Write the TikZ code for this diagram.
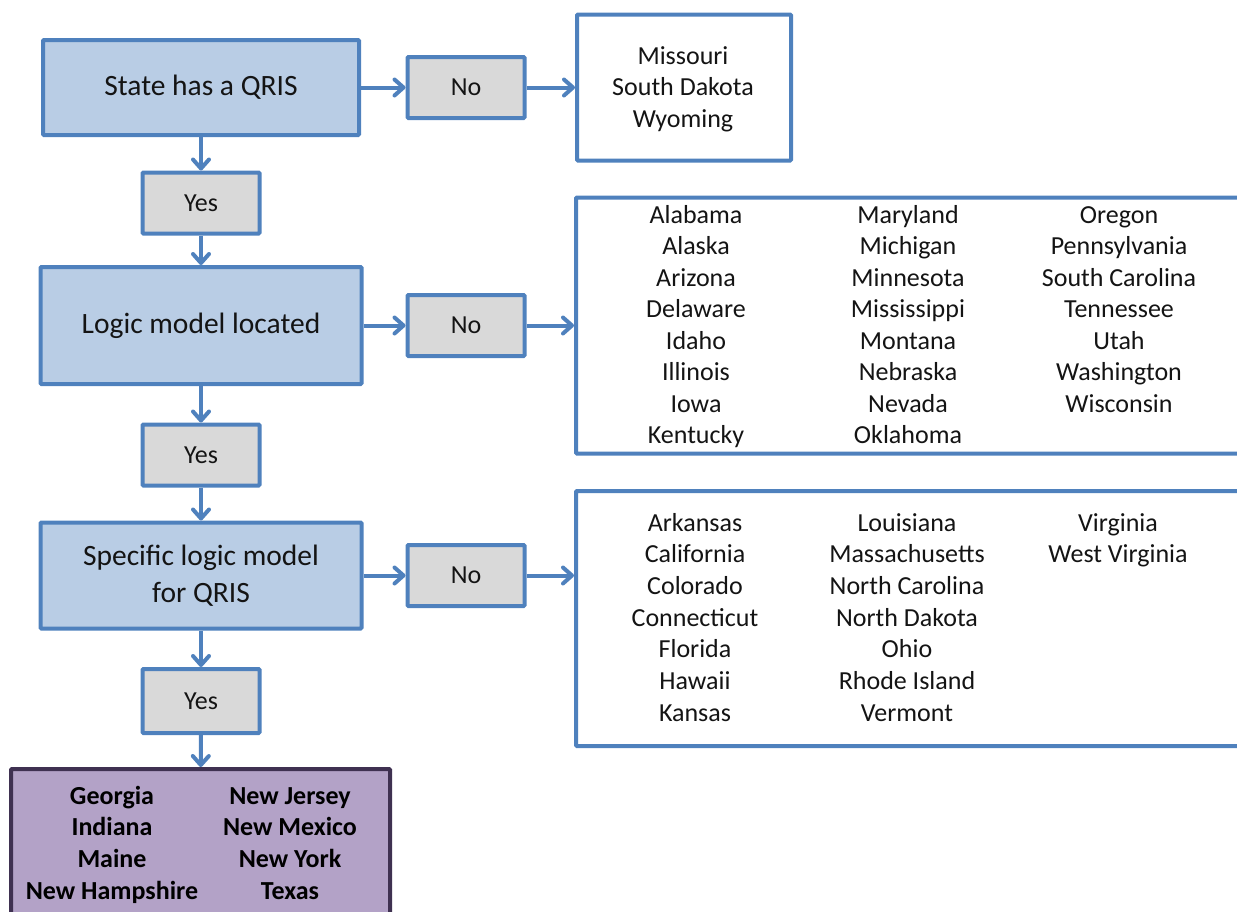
\documentclass[tikz,border=0pt]{standalone}
\usepackage{fontspec}
\setmainfont{Carlito}
\usetikzlibrary{arrows.meta}
\definecolor{bord}{HTML}{4F81BD}
\definecolor{bluefill}{HTML}{B9CDE5}
\definecolor{grayfill}{HTML}{D9D9D9}
\definecolor{purpfill}{HTML}{B3A2C7}
\definecolor{purpbord}{HTML}{3F3151}
\definecolor{txt}{HTML}{141414}
\tikzset{
  mainbox/.style={draw=bord, fill=bluefill, line width=4pt, inner sep=0pt, rounded corners=1pt,
    align=center, text=txt, font=\fontsize{29.5}{37}\selectfont},
  ansbox/.style={draw=bord, fill=grayfill, line width=4pt, inner sep=0pt, rounded corners=1pt,
    minimum width=117pt, minimum height=61pt, text=txt, font=\fontsize{26}{31}\selectfont},
  listbox/.style={draw=bord, fill=white, line width=4pt, inner sep=0pt, rounded corners=1pt},
  finalbox/.style={draw=purpbord, fill=purpfill, line width=4pt, inner sep=0pt, rounded corners=1pt},
  listtxt/.style={inner sep=0pt, anchor=base, text=txt, font=\fontsize{26}{31}\selectfont},
  boldtxt/.style={inner sep=0pt, anchor=base, text=black, font=\fontsize{26}{31}\selectfont\bfseries},
  flow/.style={draw=bord, line width=4pt, -{Straight Barb[length=9pt,width=16pt,line width=4pt,round]}},
}
\begin{document}
\begin{tikzpicture}[x=1pt,y=-1pt]
\useasboundingbox (0,0) rectangle (1237,911);
\clip (0,0) rectangle (1237,911);
% left column
\node[mainbox, minimum width=316pt, minimum height=95pt] (b1) at (201,87.5) {State has a QRIS};
\node[ansbox] (yes1) at (201,203) {Yes};
\node[mainbox, minimum width=321pt, minimum height=117pt] (b2) at (201,325.5) {Logic model located};
\node[ansbox] (yes2) at (201,455) {Yes};
\node[mainbox, minimum width=321pt, minimum height=106pt] (b3) at (201,575.5) {Specific logic model\\for QRIS};
\node[ansbox, minimum height=64pt] (yes3) at (201,701) {Yes};
\node[finalbox, minimum width=379pt, minimum height=160pt] (fin) at (200.5,849) {};
% No boxes
\node[ansbox] (no1) at (466,87.5) {No};
\node[ansbox] (no2) at (466,325.5) {No};
\node[ansbox] (no3) at (466,575.5) {No};
% list boxes
\node[listbox, minimum width=214pt, minimum height=146pt] (l1) at (684,87.5) {};
\node[listbox, minimum width=684pt, minimum height=256pt] (l2) at (918,325.5) {};
\node[listbox, minimum width=684pt, minimum height=255pt] (l3) at (918,618.5) {};
% texts list 1
\foreach \s [count=\i] in {Missouri, South Dakota, Wyoming}
  \node[listtxt] (ta\i) at ({683},{64+(\i-1)*31.5}) {\s};
% list 2
\foreach \s [count=\i] in {Alabama, Alaska, Arizona, Delaware, Idaho, Illinois, Iowa, Kentucky}
  \node[listtxt] (tb\i) at ({696},{223+(\i-1)*31.57}) {\s};
\foreach \s [count=\i] in {Maryland, Michigan, Minnesota, Mississippi, Montana, Nebraska, Nevada, Oklahoma}
  \node[listtxt] (tc\i) at ({908},{223+(\i-1)*31.57}) {\s};
\foreach \s [count=\i] in {Oregon, Pennsylvania, South Carolina, Tennessee, Utah, Washington, Wisconsin}
  \node[listtxt] (td\i) at ({1119},{223+(\i-1)*31.57}) {\s};
% list 3
\foreach \s [count=\i] in {Arkansas, California, Colorado, Connecticut, Florida, Hawaii, Kansas}
  \node[listtxt] (te\i) at ({695},{531+(\i-1)*31.67}) {\s};
\foreach \s [count=\i] in {Louisiana, Massachusetts, North Carolina, North Dakota, Ohio, Rhode Island, Vermont}
  \node[listtxt] (tf\i) at ({907},{531+(\i-1)*31.67}) {\s};
\foreach \s [count=\i] in {Virginia, West Virginia}
  \node[listtxt] (tg\i) at ({1118},{531+(\i-1)*31.67}) {\s};
% final list
\foreach \s [count=\i] in {Georgia, Indiana, Maine, New Hampshire}
  \node[boldtxt] (th\i) at ({112},{804+(\i-1)*31.67}) {\s};
\foreach \s [count=\i] in {New Jersey, New Mexico, New York, Texas}
  \node[boldtxt] (ti\i) at ({290},{804+(\i-1)*31.67}) {\s};
% connectors
\draw[flow] (b1) -- (no1);
\draw[flow] (no1) -- (l1);
\draw[flow] (b1) -- (yes1);
\draw[flow] (yes1) -- (b2);
\draw[flow] (b2) -- (no2);
\draw[flow] (no2) -- (l2);
\draw[flow] (b2) -- (yes2);
\draw[flow] (yes2) -- (b3);
\draw[flow] (b3) -- (no3);
\draw[flow] (no3.east) -- (no3.east -| l3.west);
\draw[flow] (b3) -- (yes3);
\draw[flow] (yes3) -- (fin);
\end{tikzpicture}
\end{document}
